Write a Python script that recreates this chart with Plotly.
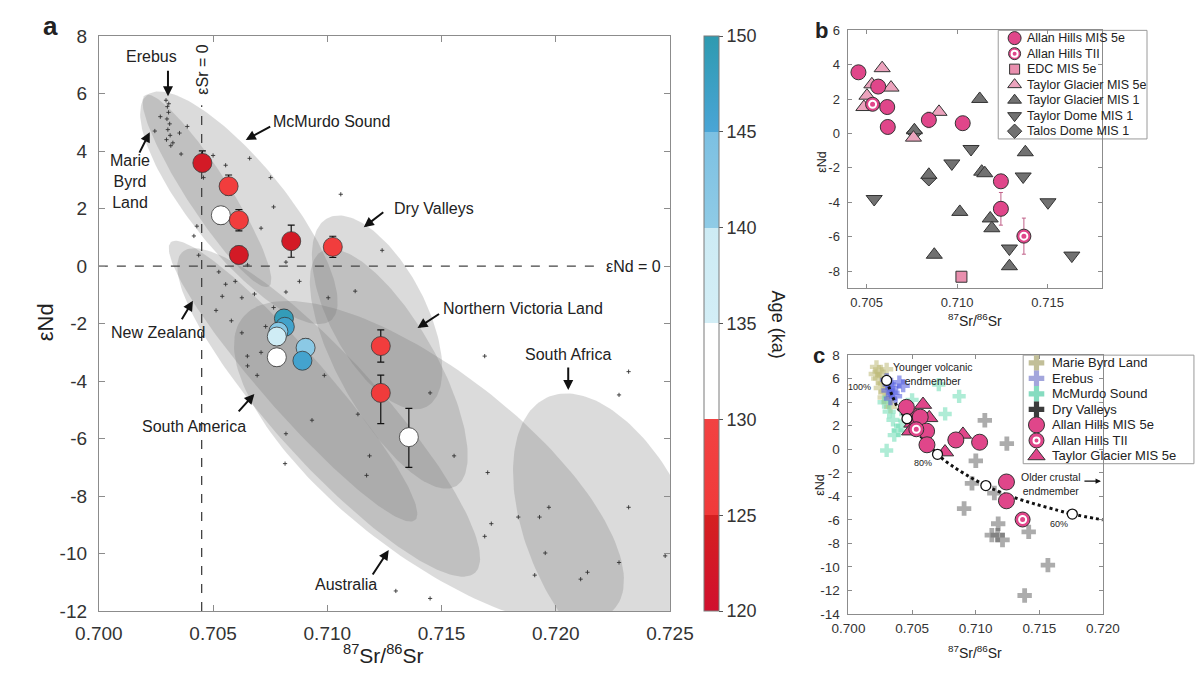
import numpy as np
import plotly.graph_objects as go

W, H = 1195, 688
FONT = "Liberation Sans, Arial, Helvetica, sans-serif"
INK = "#222222"
FRAME = "#8c8c8c"

# ---------------- panel a : dust samples (Sr, Nd, age) ----------------
a_sr = [0.70453, 0.70568, 0.70534, 0.70613, 0.70613, 0.70842, 0.71024,
        0.70810, 0.70814, 0.70786, 0.70779, 0.70779, 0.70905, 0.70891,
        0.71234, 0.71234, 0.71357]
a_nd = [3.59, 2.78, 1.77, 1.60, 0.39, 0.87, 0.67,
        -1.82, -2.11, -2.28, -2.45, -3.17, -2.84, -3.29,
        -2.78, -4.41, -5.95]
a_age = [123, 127, 132, 127, 123, 123, 127,
         149, 146.5, 142, 138, 132.5, 141, 146,
         127, 125.5, 132]
a_err_up = [0.42, 0.39, 0.30, 0.37, 0.30, 0.56, 0.37,
            0.30, 0.30, 0.30, 0.30, 0.30, 0.30, 0.30,
            0.56, 0.62, 1.00]
a_err_dn = [0.30, 0.30, 0.30, 0.37, 0.30, 0.56, 0.37,
            0.30, 0.30, 0.30, 0.30, 0.30, 0.30, 0.30,
            0.56, 1.07, 1.05]

# potential source area fields (ellipses): centre, semi-axes (fraction of axis width), tilt (deg, clockwise on screen)
field_names = ["Australia", "South Africa", "South America", "New Zealand",
               "Northern Victoria Land", "Dry Valleys", "McMurdo Sound", "Marie Byrd Land"]
field_sr = [0.71445, 0.72244, 0.71006, 0.70850, 0.71269, 0.71218, 0.70613, 0.70473]
field_nd = [-6.84, -9.47, -5.09, -4.00, -3.57, -1.61, 2.03, 2.62]
field_a = [0.412, 0.269, 0.378, 0.322, 0.235, 0.185, 0.253, 0.198]
field_b = [0.160, 0.143, 0.092, 0.054, 0.084, 0.084, 0.081, 0.037]
field_tilt = [37.4, 65.0, 47.3, 48.4, 60.0, 62.0, 50.4, 56.8]

# individual PSA measurements (small black marks)
psa_sr = [0.70294, 0.70300, 0.70305, 0.70298, 0.70310, 0.70302, 0.70312, 0.70296, 0.70315, 0.70306,
          0.70269, 0.70324, 0.70353, 0.70387, 0.70429, 0.70416, 0.70437, 0.70660, 0.70752, 0.71059,
          0.70710, 0.70765, 0.70819, 0.70651, 0.71240, 0.70500, 0.70555, 0.70458, 0.70245, 0.70360,
          0.70525, 0.70597, 0.70513, 0.70681, 0.70765, 0.70626, 0.70710, 0.70651, 0.70693, 0.70650,
          0.70819, 0.70878, 0.71004, 0.71122, 0.70626, 0.70555, 0.70580, 0.70730, 0.70540, 0.70800,
          0.70819, 0.70815, 0.71172, 0.71185, 0.71689, 0.70933, 0.70987, 0.71134, 0.71450, 0.72319,
          0.72277, 0.71555, 0.71702, 0.71970, 0.71929, 0.71836, 0.71718, 0.71689, 0.71954, 0.72109,
          0.72139, 0.72277, 0.72319, 0.72479, 0.71908, 0.71450, 0.71300]
psa_nd = [5.77, 5.55, 5.35, 5.12, 4.95, 4.75, 4.55, 4.40, 4.19, 5.65,
          5.20, 4.29, 4.63, 4.86, 1.39, 1.05, 0.38, 3.75, 3.08, 2.50,
          1.32, 2.06, 0.14, 0.04, 0.55, 3.85, 3.51, 3.08, 4.70, 3.90,
          -0.20, -0.53, -1.54, -0.97, -1.44, -2.32, -3.00, -3.47, -3.80, -3.13,
          -0.90, -0.53, -1.10, -0.87, -1.10, -0.63, -1.90, -2.10, -1.05, -1.75,
          -5.83, -6.87, -7.28, -6.60, -3.13, -5.36, -3.80, -5.15, -4.41, -3.67,
          -4.48, -6.60, -7.18, -8.39, -8.73, -8.73, -8.96, -9.40, -9.98, -10.89,
          -10.65, -10.31, -8.39, -10.08, -10.75, -11.56, -11.30]

ESR0 = 0.7045          # epsilon Sr = 0
END0 = 0.0             # epsilon Nd = 0
ESR0_TOP = 5.6
END0_RIGHT = 0.7218

# ---------------- panels b / c : ice-core dust ----------------
ah5e_sr = [0.70455, 0.70564, 0.70614, 0.70617, 0.70844, 0.71031, 0.71242, 0.71242]
ah5e_nd = [3.56, 2.73, 1.54, 0.38, 0.79, 0.60, -2.78, -4.38]
ah5e_err = [0.0, 0.0, 0.0, 0.0, 0.45, 0.0, 0.35, 0.95]
ahtii_sr = [0.70533, 0.71369]
ahtii_nd = [1.70, -5.97]
ahtii_err = [0.0, 1.05]
edc_sr = [0.71024]
edc_nd = [-8.33]
tg5e_sr = [0.70586, 0.70635, 0.70529, 0.70502, 0.70485, 0.70900, 0.70759]
tg5e_nd = [3.80, 2.67, 2.86, 2.20, 1.54, 1.26, -0.24]
tg1_sr = [0.71125, 0.70764, 0.71377, 0.70844, 0.71136, 0.71153, 0.71015, 0.71183, 0.71192, 0.70874, 0.71289]
tg1_nd = [2.01, 0.19, -1.09, -2.40, -2.22, -2.31, -4.56, -4.94, -5.51, -7.05, -7.72]
td1_sr = [0.71077, 0.70971, 0.70542, 0.71365, 0.71502, 0.71289, 0.71634]
td1_nd = [-0.90, -1.74, -3.81, -2.50, -4.00, -6.69, -7.10]
talos_sr = [0.70764, 0.70844]
talos_nd = [0.05, -2.60]

# panel c : Antarctic sources and mixing
mbl_sr = [0.7022, 0.7024, 0.7026, 0.7023, 0.7027, 0.7025, 0.7029, 0.7028, 0.7031, 0.7033, 0.7030, 0.7021]
mbl_nd = [7.0, 6.6, 6.3, 6.0, 5.6, 5.2, 4.9, 4.4, 4.0, 3.6, 6.8, 6.4]
ere_sr = [0.7030, 0.7032, 0.7034, 0.7031, 0.7035, 0.7043, 0.7037, 0.7033, 0.7040]
ere_nd = [5.9, 5.5, 5.2, 5.0, 4.8, 5.4, 4.5, 4.3, 5.7]
mcm_sr = [0.7030, 0.7039, 0.7035, 0.7032, 0.7028, 0.7041, 0.7045, 0.7076, 0.7087, 0.7071, 0.7036, 0.7050]
mcm_nd = [-0.1, 1.6, 2.5, 3.2, 4.0, 2.0, 3.0, 3.0, 4.5, 5.5, 1.2, 4.2]
dv_sr = [0.71072, 0.71245, 0.71001, 0.70971, 0.70909, 0.71177, 0.71127, 0.71173, 0.71211,
         0.71417, 0.71568, 0.71385, 0.71147]
dv_nd = [2.46, 0.48, -0.98, -2.90, -5.04, -6.33, -7.30, -7.30, -7.71, -7.02, -9.85, -12.43, -3.72]
mixc_sr = [0.7030, 0.7035, 0.7040, 0.7046, 0.7055, 0.7063, 0.7070, 0.7080, 0.7093, 0.7108,
           0.7125, 0.7145, 0.7165, 0.7176, 0.7200]
mixc_nd = [5.85, 4.40, 3.30, 2.60, 1.30, 0.40, -0.43, -1.30, -2.20, -3.09, -3.90, -4.60, -5.20, -5.51, -6.00]
mixp_sr = [0.7030, 0.7046, 0.7070, 0.7108, 0.7176]
mixp_nd = [5.85, 2.60, -0.43, -3.09, -5.51]

# ---------------- styles ----------------
PINK = "#e0468a"
PINK_LT = "#eca3bd"
PINK_SQ = "#e98fae"
GREY = "#717171"
OUT = "#333333"
FIELD_FILL = "rgba(115,115,115,0.26)"
AGE_CS = [[0.0, "#d0102e"], [1/6, "#d52020"], [1/6, "#f03a3a"], [2/6, "#f24242"],
          [2/6, "#ffffff"], [3/6, "#ffffff"], [3/6, "#d3eef6"], [4/6, "#cdebf4"],
          [4/6, "#8fcbe6"], [5/6, "#7cc0e2"], [5/6, "#4aa5d6"], [1.0, "#2e9ab0"]]

AX = [0.700, 0.725]
AY = [-12, 8]
BX = [0.704, 0.718]
BY = [-9, 6]
CX = [0.700, 0.720]
CY = [-14, 8]

# pixel boxes of the panels (left, top, right, bottom)
A_BOX = (78, 27, 673, 620)
B_BOX = (859, 21, 1123, 287)
C_BOX = (859, 356, 1124, 623)
LB_BOX = (1015, 21, 1170, 133)
LC_BOX = (1041, 356, 1195, 468)


def dom(box):
    l, t, r, b = box
    return [l / W, r / W], [1 - b / H, 1 - t / H]


def P(x, y):
    return x / W, 1 - y / H


def ellipse(xc, yc, a, b, tilt, n=181):
    t = np.linspace(0, 2 * np.pi, n)
    th = np.radians(tilt)
    pw = A_BOX[2] - A_BOX[0]
    ph = A_BOX[3] - A_BOX[1]
    u0 = (xc - AX[0]) / (AX[1] - AX[0])
    v0 = (yc - AY[0]) / (AY[1] - AY[0])
    du = a * np.cos(t) * np.cos(th) - b * np.sin(t) * np.sin(th)
    dd = a * np.cos(t) * np.sin(th) + b * np.sin(t) * np.cos(th)
    u = u0 + du
    v = v0 - dd * pw / ph
    return AX[0] + u * (AX[1] - AX[0]), AY[0] + v * (AY[1] - AY[0])


fig = go.Figure()

# ---- panel a ----
for nm, xc, yc, aa, bb, tl in zip(field_names, field_sr, field_nd, field_a, field_b, field_tilt):
    ex, ey = ellipse(xc, yc, aa, bb, tl)
    fig.add_trace(go.Scatter(x=ex, y=ey, mode="lines", fill="toself", fillcolor=FIELD_FILL,
                             line=dict(width=0, color="rgba(0,0,0,0)"), name=nm,
                             hoverinfo="skip", showlegend=False, xaxis="x", yaxis="y"))

fig.add_trace(go.Scatter(x=psa_sr, y=psa_nd, mode="markers",
                         marker=dict(symbol="cross-thin", size=3, line=dict(width=0.9, color="#333")),
                         showlegend=False, xaxis="x", yaxis="y", hoverinfo="skip"))

fig.add_trace(go.Scatter(x=[AX[0], END0_RIGHT], y=[END0, END0], mode="lines",
                         line=dict(color="#444", width=1.3, dash="dash"),
                         showlegend=False, xaxis="x", yaxis="y", hoverinfo="skip"))
fig.add_trace(go.Scatter(x=[ESR0, ESR0], y=[AY[0], ESR0_TOP], mode="lines",
                         line=dict(color="#444", width=1.3, dash="dash"),
                         showlegend=False, xaxis="x", yaxis="y", hoverinfo="skip"))

fig.add_trace(go.Scatter(
    x=a_sr, y=a_nd, mode="markers", showlegend=False, xaxis="x", yaxis="y",
    error_y=dict(type="data", symmetric=False, array=a_err_up, arrayminus=a_err_dn,
                 color="#111", thickness=1.2, width=3.5),
    marker=dict(size=19, color=a_age, colorscale=AGE_CS, cmin=120, cmax=150,
                line=dict(color="#3a3a3a", width=0.8),
                colorbar=dict(x=708 / W, xanchor="left", y=1 - 620 / H, yanchor="bottom",
                              len=593 / H, lenmode="fraction", thickness=15, thicknessmode="pixels",
                              xpad=0, ypad=0, outlinewidth=1, outlinecolor="#7a7a7a",
                              tickvals=[120, 125, 130, 135, 140, 145, 150], ticks="outside",
                              ticklen=4, tickcolor="#555",
                              tickfont=dict(family=FONT, size=18, color="#333"))),
))

# ---- panel b ----
fig.add_trace(go.Scatter(x=td1_sr, y=td1_nd, mode="markers", xaxis="x2", yaxis="y2", showlegend=False,
                         marker=dict(symbol="triangle-down", size=14, color=GREY, line=dict(color=OUT, width=1))))
fig.add_trace(go.Scatter(x=talos_sr, y=talos_nd, mode="markers", xaxis="x2", yaxis="y2", showlegend=False,
                         marker=dict(symbol="diamond", size=12, color=GREY, line=dict(color=OUT, width=1))))
fig.add_trace(go.Scatter(x=tg1_sr, y=tg1_nd, mode="markers", xaxis="x2", yaxis="y2", showlegend=False,
                         marker=dict(symbol="triangle-up", size=14, color=GREY, line=dict(color=OUT, width=1))))
fig.add_trace(go.Scatter(x=edc_sr, y=edc_nd, mode="markers", xaxis="x2", yaxis="y2", showlegend=False,
                         marker=dict(symbol="square", size=11, color=PINK_SQ, line=dict(color=OUT, width=1))))
fig.add_trace(go.Scatter(x=tg5e_sr, y=tg5e_nd, mode="markers", xaxis="x2", yaxis="y2", showlegend=False,
                         marker=dict(symbol="triangle-up", size=14, color=PINK_LT, line=dict(color=OUT, width=1))))
fig.add_trace(go.Scatter(x=ah5e_sr, y=ah5e_nd, mode="markers", xaxis="x2", yaxis="y2", showlegend=False,
                         error_y=dict(type="data", array=ah5e_err, color="#c06088", thickness=1, width=2),
                         marker=dict(symbol="circle", size=15, color=PINK, line=dict(color=OUT, width=1))))
fig.add_trace(go.Scatter(x=ahtii_sr, y=ahtii_nd, mode="markers", xaxis="x2", yaxis="y2", showlegend=False,
                         error_y=dict(type="data", array=ahtii_err, color="#c06088", thickness=1, width=2),
                         marker=dict(symbol="circle", size=14, color=PINK, line=dict(color=OUT, width=1))))
fig.add_trace(go.Scatter(x=ahtii_sr, y=ahtii_nd, mode="markers", xaxis="x2", yaxis="y2", showlegend=False,
                         marker=dict(symbol="circle", size=7, color=PINK, line=dict(color="white", width=2))))

# ---- panel c ----
fig.add_trace(go.Scatter(x=mbl_sr, y=mbl_nd, mode="markers", xaxis="x3", yaxis="y3", showlegend=False,
                         marker=dict(symbol="cross", size=11, color="rgba(190,186,120,0.55)", line=dict(width=0))))
fig.add_trace(go.Scatter(x=mcm_sr, y=mcm_nd, mode="markers", xaxis="x3", yaxis="y3", showlegend=False,
                         marker=dict(symbol="cross", size=11, color="rgba(110,220,180,0.55)", line=dict(width=0))))
fig.add_trace(go.Scatter(x=ere_sr, y=ere_nd, mode="markers", xaxis="x3", yaxis="y3", showlegend=False,
                         marker=dict(symbol="cross", size=11, color="rgba(90,100,225,0.6)", line=dict(width=0))))
fig.add_trace(go.Scatter(x=dv_sr, y=dv_nd, mode="markers", xaxis="x3", yaxis="y3", showlegend=False,
                         marker=dict(symbol="cross", size=12, color="rgba(90,90,90,0.5)", line=dict(width=0))))
fig.add_trace(go.Scatter(x=mixc_sr, y=mixc_nd, mode="lines", xaxis="x3", yaxis="y3", showlegend=False,
                         line=dict(color="#111", width=3, dash="dot"), line_shape="spline"))
fig.add_trace(go.Scatter(x=tg5e_sr, y=tg5e_nd, mode="markers", xaxis="x3", yaxis="y3", showlegend=False,
                         marker=dict(symbol="triangle-up", size=15, color=PINK, line=dict(color=OUT, width=1))))
fig.add_trace(go.Scatter(x=ah5e_sr, y=ah5e_nd, mode="markers", xaxis="x3", yaxis="y3", showlegend=False,
                         marker=dict(symbol="circle", size=16, color=PINK, line=dict(color=OUT, width=1))))
fig.add_trace(go.Scatter(x=ahtii_sr, y=ahtii_nd, mode="markers", xaxis="x3", yaxis="y3", showlegend=False,
                         marker=dict(symbol="circle", size=15, color=PINK, line=dict(color=OUT, width=1))))
fig.add_trace(go.Scatter(x=ahtii_sr, y=ahtii_nd, mode="markers", xaxis="x3", yaxis="y3", showlegend=False,
                         marker=dict(symbol="circle", size=7, color=PINK, line=dict(color="white", width=2))))
fig.add_trace(go.Scatter(x=mixp_sr, y=mixp_nd, mode="markers", xaxis="x3", yaxis="y3", showlegend=False,
                         marker=dict(symbol="circle", size=10, color="white", line=dict(color="#111", width=1.3))))

# ---- manual legends (rows by index) ----
leg_b_labels = ["Allan Hills MIS 5e", "Allan Hills TII", "EDC MIS 5e", "Taylor Glacier MIS 5e",
                "Taylor Glacier MIS 1", "Taylor Dome MIS 1", "Talos Dome MIS 1"]
leg_b_symbols = ["circle", "circle", "square", "triangle-up", "triangle-up", "triangle-down", "diamond"]
leg_b_colors = [PINK, PINK, PINK_SQ, PINK_LT, GREY, GREY, GREY]
leg_b_sizes = [13, 12, 10, 12, 12, 12, 11]

leg_c_labels = ["Marie Byrd Land", "Erebus", "McMurdo Sound", "Dry Valleys",
                "Allan Hills MIS 5e", "Allan Hills TII", "Taylor Glacier MIS 5e"]
leg_c_symbols = ["cross", "cross", "cross", "cross", "circle", "circle", "triangle-up"]
leg_c_colors = ["#c2bf98", "#a3a6dc", "#86dcc0", "#3c3c3c", PINK, PINK, PINK]
leg_c_sizes = [13, 13, 13, 13, 16, 15, 15]


def add_legend(labels, symbols, colors, sizes, xa, ya, ring_row, mx):
    rows = list(range(len(labels)))
    for r, s, c, z in zip(rows, symbols, colors, sizes):
        ln = dict(width=0) if s == "cross" else dict(color=OUT, width=1)
        fig.add_trace(go.Scatter(x=[mx], y=[r], mode="markers", xaxis=xa, yaxis=ya, showlegend=False,
                                 hoverinfo="skip", marker=dict(symbol=s, size=z, color=c, line=ln)))
    fig.add_trace(go.Scatter(x=[mx], y=[ring_row], mode="markers", xaxis=xa, yaxis=ya, showlegend=False,
                             hoverinfo="skip",
                             marker=dict(symbol="circle", size=6, color=PINK, line=dict(color="white", width=2))))


add_legend(leg_b_labels, leg_b_symbols, leg_b_colors, leg_b_sizes, "x4", "y4", 1, 0.11)
add_legend(leg_c_labels, leg_c_symbols, leg_c_colors, leg_c_sizes, "x5", "y5", 5, 0.09)

annotations = []
for i, t in enumerate(leg_b_labels):
    annotations.append(dict(x=0.18, y=i, xref="x4", yref="y4", text=t, showarrow=False, xanchor="left",
                            font=dict(family=FONT, size=12.5, color=INK)))
for i, t in enumerate(leg_c_labels):
    annotations.append(dict(x=0.18, y=i, xref="x5", yref="y5", text=t, showarrow=False, xanchor="left",
                            font=dict(family=FONT, size=13, color=INK)))


# ---- text annotations (positions in pixels) ----
def txt(t, x, y, size, xanchor="center", angle=0, bold=False, color=INK):
    px, py = P(x, y)
    annotations.append(dict(x=px, y=py, xref="paper", yref="paper", text=(f"<b>{t}</b>" if bold else t),
                            showarrow=False, xanchor=xanchor, yanchor="middle", textangle=angle,
                            font=dict(family=FONT, size=size, color=color)))


def arrow(x0, y0, x1, y1, width=2.0, size=1.0):
    px, py = P(x1, y1)
    annotations.append(dict(x=px, y=py, xref="paper", yref="paper", text="", showarrow=True,
                            ax=x0 - x1, ay=y0 - y1, arrowhead=2, arrowsize=size, arrowwidth=width,
                            arrowcolor="#111", standoff=0, startstandoff=0))


# panel labels
txt("a", 28, 16, 26, bold=True)
txt("b", 831, 21, 22, bold=True)
txt("c", 828, 356, 22, bold=True)

# panel a labels
txt("Erebus", 133, 48, 16)
txt("Marie<br>Byrd<br>Land", 110, 177, 16)
txt("McMurdo Sound", 320, 115, 16)
txt("Dry Valleys", 427, 205, 16)
txt("New Zealand", 140, 333, 16)
txt("Northern Victoria Land", 520, 308, 16)
txt("South America", 177, 430, 16)
txt("South Africa", 567, 355, 16)
txt("Australia", 335, 593, 16)
txt("εNd = 0", 666, 265, 16, xanchor="right")
txt("εSr = 0", 186, 62, 16, angle=-90)
arrow(150, 62, 150, 89)
arrow(120, 148, 131, 126)
arrow(257, 120, 231, 134)
arrow(375, 208, 354, 224)
arrow(164, 320, 176, 300)
arrow(433, 313, 410, 328)
arrow(223, 415, 240, 396)
arrow(567, 368, 567, 392)
arrow(363, 583, 380, 557)

# axis titles
txt("<sup>87</sup>Sr/<sup>86</sup>Sr", 375, 664, 21)
txt("εNd", 22, 322, 22, angle=-90)
txt("Age (ka)", 785, 325, 18, angle=90)
txt("<sup>87</sup>Sr/<sup>86</sup>Sr", 991, 320, 14)
txt("εNd", 832, 157, 12.5, angle=-90)
txt("<sup>87</sup>Sr/<sup>86</sup>Sr", 991, 662, 14)
txt("εNd", 829, 490, 12.5, angle=-90)

# panel c labels
txt("Younger volcanic<br>endmember", 947, 375, 10.5)
txt("100%", 870, 389, 9)
txt("80%", 937, 467, 9)
txt("60%", 1078, 530, 9)
txt("Older crustal<br>endmember", 1070, 489, 10.5)
arrow(1104, 486, 1122, 486, width=1.2, size=0.9)

shapes = [
    dict(type="rect", xref="paper", yref="paper", x0=LB_BOX[0] / W, x1=LB_BOX[2] / W,
         y0=1 - LB_BOX[3] / H, y1=1 - LB_BOX[1] / H, line=dict(color="#9a9a9a", width=1),
         fillcolor="white", layer="below"),
    dict(type="rect", xref="paper", yref="paper", x0=LC_BOX[0] / W, x1=1.02,
         y0=1 - LC_BOX[3] / H, y1=1 - LC_BOX[1] / H, line=dict(color="#9a9a9a", width=1),
         fillcolor="white", layer="below"),
]


def axis(domain, rng, tickvals, ticktext, size, ticklen, standoff, anchor):
    return dict(domain=domain, range=rng, tickvals=tickvals, ticktext=ticktext, anchor=anchor,
                showline=True, linecolor=FRAME, linewidth=1, mirror="allticks",
                ticks="inside", ticklen=ticklen, tickcolor=FRAME, tickwidth=1,
                showgrid=False, zeroline=False, ticklabelstandoff=standoff,
                tickfont=dict(family=FONT, size=size, color="#333"), fixedrange=True)


ax_dx, ax_dy = dom(A_BOX)
bx_dx, bx_dy = dom(B_BOX)
cx_dx, cx_dy = dom(C_BOX)
lb_dx, lb_dy = dom(LB_BOX)
lc_dx, lc_dy = dom(LC_BOX)
lc_dx = [lc_dx[0], 1.0]

a_xt = [0.700, 0.705, 0.710, 0.715, 0.720, 0.725]
a_yt = list(range(-12, 9, 2))
b_xt = [0.705, 0.710, 0.715]
b_yt = list(range(-8, 7, 2))
c_xt = [0.700, 0.705, 0.710, 0.715, 0.720]
c_yt = list(range(-14, 9, 2))

fig.update_layout(
    width=W, height=H, autosize=False, margin=dict(l=0, r=0, t=0, b=0),
    paper_bgcolor="white", plot_bgcolor="rgba(0,0,0,0)", showlegend=False,
    font=dict(family=FONT, color=INK),
    xaxis=axis(ax_dx, AX, a_xt, [f"{v:.3f}" for v in a_xt], 19, 6, 5, "y"),
    yaxis=axis(ax_dy, AY, a_yt, [str(v) for v in a_yt], 19, 6, 7, "x"),
    xaxis2=axis(bx_dx, BX, b_xt, [f"{v:.3f}" for v in b_xt], 13, 4, 2, "y2"),
    yaxis2=axis(bx_dy, BY, b_yt, [str(v) for v in b_yt], 13, 4, 5, "x2"),
    xaxis3=axis(cx_dx, CX, c_xt, [f"{v:.3f}" for v in c_xt], 13.5, 4, 2, "y3"),
    yaxis3=axis(cx_dy, CY, c_yt, [str(v) for v in c_yt], 13.5, 4, 5, "x3"),
    xaxis4=dict(domain=lb_dx, range=[0, 1], visible=False, fixedrange=True, anchor="y4"),
    yaxis4=dict(domain=lb_dy, range=[6.5, -0.5], visible=False, fixedrange=True, anchor="x4"),
    xaxis5=dict(domain=lc_dx, range=[0, 1], visible=False, fixedrange=True, anchor="y5"),
    yaxis5=dict(domain=lc_dy, range=[6.5, -0.5], visible=False, fixedrange=True, anchor="x5"),
    annotations=annotations, shapes=shapes,
)

fig.write_html("out.html")
